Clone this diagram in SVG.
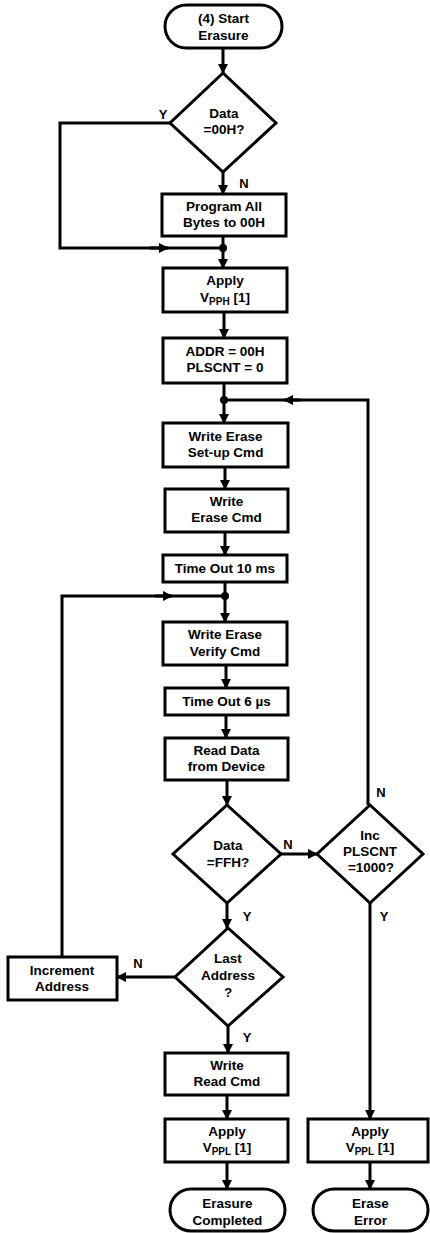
<svg xmlns="http://www.w3.org/2000/svg" width="430" height="1233" viewBox="0 0 430 1233">
<style>
.n{fill:#fff;stroke:#000;stroke-width:3}
.t{font-family:"Liberation Sans",Arial,sans-serif;font-weight:bold;font-size:13.5px;text-anchor:middle;fill:#000}
.s{font-size:10px}
.c{fill:none;stroke:#000;stroke-width:3}
.a{marker-end:url(#ah)}
.l{font-family:"Liberation Sans",Arial,sans-serif;font-weight:bold;font-size:13px;text-anchor:middle;fill:#000}
</style>
<defs>
<marker id="ah" viewBox="0 0 10 10" markerWidth="10" markerHeight="10" refX="9" refY="5" orient="auto" markerUnits="userSpaceOnUse">
<path d="M0,0 L10,5 L0,10 z" fill="#000"/>
</marker>
</defs>
<rect width="430" height="1233" fill="#fff"/>
<g id="connectors">
<path class="c a" d="M223,48 V73"/>
<path class="c" d="M172,123 H60 V248 H223"/>
<path class="c a" d="M150,248 H168"/>
<path class="c a" d="M223,172 V194"/>
<path class="c" d="M223,236 V248"/>
<path class="c a" d="M223,248 V268"/>
<path class="c a" d="M224,312 V338"/>
<path class="c" d="M224,383 V400"/>
<path class="c a" d="M224,400 V423"/>
<path class="c" d="M368,805 V400 H224"/>
<path class="c a" d="M300,400 H284"/>
<path class="c a" d="M225,467 V489"/>
<path class="c a" d="M225,532 V555"/>
<path class="c" d="M225,582 V596"/>
<path class="c a" d="M225,596 V622"/>
<path class="c" d="M62,957 V596 H225"/>
<path class="c a" d="M155,596 H172"/>
<path class="c a" d="M226,665 V688"/>
<path class="c a" d="M226,715 V738"/>
<path class="c a" d="M227,780 V805"/>
<path class="c a" d="M281,854 H317"/>
<path class="c a" d="M227,903 V928"/>
<path class="c a" d="M175,977 H117"/>
<path class="c a" d="M228,1026 V1053"/>
<path class="c a" d="M227,1095 V1119"/>
<path class="c a" d="M227,1162 V1189"/>
<path class="c a" d="M370,903 V1119"/>
<path class="c a" d="M370,1162 V1189"/>
<circle cx="223" cy="248" r="4" fill="#000"/>
<circle cx="224" cy="400" r="4" fill="#000"/>
<circle cx="225" cy="596" r="4" fill="#000"/>
<text class="l" x="163" y="119">Y</text>
<text class="l" x="244" y="188">N</text>
<text class="l" x="288" y="849">N</text>
<text class="l" x="381" y="797">N</text>
<text class="l" x="247" y="921">Y</text>
<text class="l" x="384" y="921">Y</text>
<text class="l" x="138" y="968">N</text>
<text class="l" x="247" y="1042">Y</text>
</g>
<g id="start">
<rect class="n" x="165" y="5" width="117" height="43" rx="21.5"/>
<text class="t" x="223.5" y="23">(4) Start</text>
<text class="t" x="223.5" y="40">Erasure</text>
</g>
<g id="d-data00">
<polygon class="n" points="223,73 276,123 223,172 170,123"/>
<text class="t" x="224" y="118">Data</text>
<text class="t" x="224" y="134">=00H?</text>
</g>
<g id="program">
<rect class="n" x="162" y="194" width="124" height="42"/>
<text class="t" x="224" y="211">Program All</text>
<text class="t" x="224" y="227">Bytes to 00H</text>
</g>
<g id="applyvpph">
<rect class="n" x="163" y="268" width="124" height="44"/>
<text class="t" x="225" y="285">Apply</text>
<text class="t" x="225" y="302">V<tspan class="s" dy="3">PPH</tspan><tspan dy="-3"> [1]</tspan></text>
</g>
<g id="addr">
<rect class="n" x="163" y="338" width="124" height="45"/>
<text class="t" x="225" y="356">ADDR = 00H</text>
<text class="t" x="225" y="372">PLSCNT = 0</text>
</g>
<g id="setup">
<rect class="n" x="163" y="423" width="125" height="44"/>
<text class="t" x="225.5" y="441">Write Erase</text>
<text class="t" x="225.5" y="457">Set-up Cmd</text>
</g>
<g id="erasecmd">
<rect class="n" x="165" y="489" width="123" height="43"/>
<text class="t" x="226.5" y="506">Write</text>
<text class="t" x="226.5" y="522">Erase Cmd</text>
</g>
<g id="timeout10">
<rect class="n" x="163" y="555" width="124" height="27"/>
<text class="t" x="225" y="573">Time Out 10 ms</text>
</g>
<g id="verify">
<rect class="n" x="163" y="622" width="124" height="43"/>
<text class="t" x="225" y="639">Write Erase</text>
<text class="t" x="225" y="656">Verify Cmd</text>
</g>
<g id="timeout6">
<rect class="n" x="165" y="688" width="123" height="27"/>
<text class="t" x="226.5" y="706">Time Out 6 µs</text>
</g>
<g id="readdata">
<rect class="n" x="165" y="738" width="123" height="42"/>
<text class="t" x="226.5" y="755">Read Data</text>
<text class="t" x="226.5" y="771">from Device</text>
</g>
<g id="d-dataff">
<polygon class="n" points="227,805 281,854 227,903 173,854"/>
<text class="t" x="228" y="850">Data</text>
<text class="t" x="228" y="867">=FFH?</text>
</g>
<g id="d-inc">
<polygon class="n" points="370,805 423,854 370,903 317,854"/>
<text class="t" x="370" y="840">Inc</text>
<text class="t" x="370" y="856">PLSCNT</text>
<text class="t" x="371" y="872">=1000?</text>
</g>
<g id="d-last">
<polygon class="n" points="228,928 283,977 228,1026 175,977"/>
<text class="t" x="228" y="963">Last</text>
<text class="t" x="228" y="980">Address</text>
<text class="t" x="228" y="997">?</text>
</g>
<g id="increment">
<rect class="n" x="8" y="957" width="109" height="43"/>
<text class="t" x="62" y="975">Increment</text>
<text class="t" x="62" y="991">Address</text>
</g>
<g id="readcmd">
<rect class="n" x="165" y="1053" width="123" height="42"/>
<text class="t" x="227" y="1070">Write</text>
<text class="t" x="227" y="1086">Read Cmd</text>
</g>
<g id="applyvppl1">
<rect class="n" x="165" y="1119" width="123" height="43"/>
<text class="t" x="227" y="1136">Apply</text>
<text class="t" x="227" y="1152">V<tspan class="s" dy="3">PPL</tspan><tspan dy="-3"> [1]</tspan></text>
</g>
<g id="completed">
<rect class="n" x="170" y="1189" width="115" height="42" rx="21"/>
<text class="t" x="227.5" y="1208">Erasure</text>
<text class="t" x="227.5" y="1225">Completed</text>
</g>
<g id="applyvppl2">
<rect class="n" x="308" y="1119" width="120" height="43"/>
<text class="t" x="370" y="1136">Apply</text>
<text class="t" x="370" y="1152">V<tspan class="s" dy="3">PPL</tspan><tspan dy="-3"> [1]</tspan></text>
</g>
<g id="error">
<rect class="n" x="313" y="1189" width="115" height="42" rx="21"/>
<text class="t" x="370.5" y="1208">Erase</text>
<text class="t" x="370.5" y="1225">Error</text>
</g>
</svg>
